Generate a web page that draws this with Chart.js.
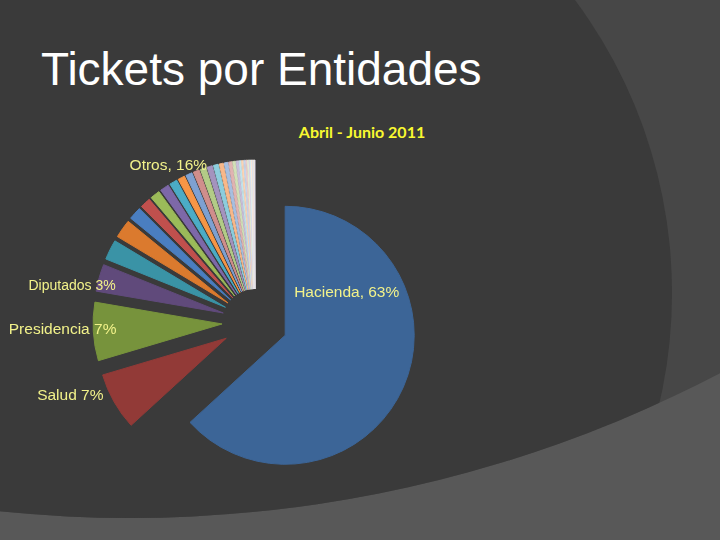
<!DOCTYPE html>
<html>
<head>
<meta charset="utf-8">
<script src="https://cdn.jsdelivr.net/npm/chart.js@4/dist/chart.umd.min.js"></script>
<style>
  html, body { margin: 0; padding: 0; background: #3a3a3a; }
  #slide { position: relative; width: 720px; height: 540px; overflow: hidden; }
  #bg { position: absolute; left: 0; top: 0; }
  #title { position: absolute; left: 41px; top: 46px; font: 46px/46px "Liberation Sans", Arial, sans-serif; color: #ffffff; white-space: nowrap; }
  #subtitle { position: absolute; left: 262px; top: 123px; width: 200px; text-align: center; font: bold 16px/18px Lato, "Open Sans", sans-serif; color: #f8f830; }
  #chart { position: absolute; left: 0; top: 0; }
</style>
</head>
<body>
<div id="slide">
  <svg id="bg" width="720" height="540">
    <defs>
      <clipPath id="upper"><circle cx="130" cy="-757" r="1275"/></clipPath>
    </defs>
    <rect width="720" height="540" fill="#585858"/>
    <circle cx="130" cy="-757" r="1275" fill="#474747"/>
    <circle cx="181" cy="293" r="491" fill="#3a3a3a" clip-path="url(#upper)"/>
  </svg>
  <div id="title">Tickets por Entidades</div>
  <div id="subtitle">Abril - Junio 2011</div>
  <canvas id="chart" width="720" height="540"></canvas>
</div>
<script>
// entities, in drawing order (clockwise from 12 o'clock)
const mainLabels = ['Hacienda', 'Salud', 'Presidencia', 'Diputados'];
const mainValues = [63.2, 7.2, 7.3, 3.4];
const mainColors = ['#3c6597', '#923a37', '#77933c', '#604a7b'];

// the many small entities grouped as "Otros"
const otherValues = [2.5, 2.3, 1.6, 1.3, 1.2, 1.1, 0.95, 0.85, 0.8, 0.75, 0.7, 0.65, 0.6, 0.5, 0.45, 0.4, 0.35, 0.3,
  0.25, 0.22, 0.2, 0.18, 0.15, 0.12, 0.1, 0.1, 0.08, 0.08, 0.06, 0.05];
const otherColors = ['#3a93a6', '#db7a2e', '#4a7ec0', '#c0504d', '#9bbb59', '#7d68a8', '#4bacc6', '#f79646',
  '#7ea1d2', '#d08e8c', '#b3cc87', '#a493be', '#8dcddd', '#f8b88a', '#a7bfe0', '#e0b3b2', '#d2e0b8', '#c9bfd9',
  '#c2e3ec', '#fbd4b4', '#c6d5ec', '#ebcdcc', '#e3edd4', '#dcd5e7', '#daeef3', '#fde9d9', '#dbe5f1', '#f2dcdb',
  '#ebf1de', '#e5e0ec'];

// data label texts as shown on the slide
const labelTexts = ['Hacienda, 63%', 'Salud 7%', 'Presidencia 7%', 'Diputados 3%', 'Otros, 16%'];

const labels = mainLabels.concat(otherValues.map(() => 'Otros'));
const values = mainValues.concat(otherValues);
const colors = mainColors.concat(otherColors);

const explode = 33; // px every slice is pulled out, like Excel's exploded pie

// where each label sits: slice index (null = whole pie), angle (deg), distance (x radius), alignment
const labelSpots = [
  { index: 0, angle: -34.7, dist: 0.58, align: 'center', size: 15.5 },
  { index: 1, angle: 155, dist: 1.05, align: 'right', size: 15.5 },
  { index: 2, angle: 176.7, dist: 0.82, align: 'right', size: 15.5 },
  { index: 3, angle: 194, dist: 0.86, align: 'right', size: 14 },
  { index: null, angle: -107, dist: 1.27, align: 'right', size: 15.5 }
];

// pull each arc out along its mid angle without trimming its sweep
const explodeSlices = {
  id: 'explodeSlices',
  afterDatasetUpdate(chart, args) {
    args.meta.data.forEach(arc => {
      const mid = (arc.startAngle + arc.endAngle) / 2;
      arc.x += Math.cos(mid) * explode;
      arc.y += Math.sin(mid) * explode;
    });
  }
};

const sliceLabels = {
  id: 'sliceLabels',
  afterDatasetsDraw(chart) {
    const ctx = chart.ctx;
    const area = chart.chartArea;
    const arcs = chart.getDatasetMeta(0).data;
    ctx.save();
    ctx.fillStyle = '#f2f28a';
    ctx.textBaseline = 'middle';
    labelSpots.forEach((spot, k) => {
      let cx = (area.left + area.right) / 2, cy = (area.top + area.bottom) / 2;
      const r = arcs[0].outerRadius;
      if (spot.index !== null) {
        cx = arcs[spot.index].x;
        cy = arcs[spot.index].y;
      }
      const a = spot.angle * Math.PI / 180;
      ctx.font = spot.size + 'px "Liberation Sans", Arial, sans-serif';
      ctx.textAlign = spot.align;
      ctx.fillText(labelTexts[k], cx + Math.cos(a) * r * spot.dist, cy + Math.sin(a) * r * spot.dist);
    });
    ctx.restore();
  }
};

new Chart(document.getElementById('chart'), {
  type: 'pie',
  data: {
    labels: labels,
    datasets: [{
      data: values,
      backgroundColor: colors,
      borderColor: colors,
      borderWidth: 1
    }]
  },
  options: {
    responsive: false,
    animation: false,
    events: [],
    radius: 129,
    layout: { padding: { left: 0, right: 210, top: 104, bottom: 0 } },
    plugins: {
      legend: { display: false },
      tooltip: { enabled: false }
    }
  },
  plugins: [explodeSlices, sliceLabels]
});
</script>
</body>
</html>
